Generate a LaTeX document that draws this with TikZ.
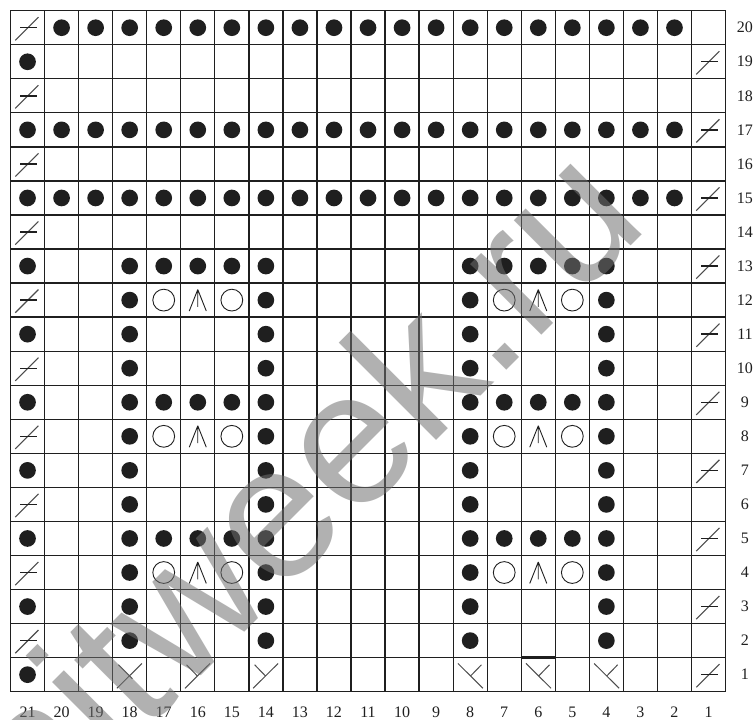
\documentclass[tikz,border=0pt]{standalone}
\usepackage{fontspec}
\setmainfont{Liberation Serif}
\newfontfamily\wmfont{Liberation Sans}
\definecolor{wmgray}{rgb}{0.44,0.44,0.44}
\definecolor{ink}{rgb}{0.12,0.12,0.12}
\tikzset{
  gridline/.style={line width=1.3pt, draw=ink},
  purl/.pic={\fill[ink] (0,0) circle (0.245);},
  yo/.pic={\draw[line width=0.9pt, ink] (0,0) circle (0.32);},
  cdd/.pic={\draw[line width=0.9pt, ink] (0,0.31)--(-0.25,-0.32) (0,0.31)--(0,-0.2) (0,0.31)--(0.25,-0.32);},
  slipst/.pic={\draw[line width=1.1pt, black!70] (-0.36,-0.37)--(0.32,0.31);
               \draw[line width=1.4pt, ink] (-0.22,0)--(0.29,0);},
  ktogr/.pic={\draw[line width=1pt, black!70] (-0.375,-0.4)--(0.36,0.33) (-0.33,0.29)--(-0.01,-0.04);},
  ktogx/.pic={\draw[line width=1pt, black!70] (-0.375,-0.4)--(0.36,0.33) (-0.33,0.29)--(0.08,-0.12);},
  ktogl/.pic={\draw[line width=1pt, black!70] (0.375,-0.4)--(-0.36,0.33) (0.33,0.29)--(0.01,-0.04);},
  numlab/.style={font=\fontsize{16}{16}\selectfont, text=ink, inner sep=0pt},
  wm/.style={font=\fontsize{190}{190}\wmfont, text=wmgray, text opacity=0.54, inner sep=0pt}
}
\begin{document}
\begin{tikzpicture}[x=1pt,y=1pt]
\useasboundingbox (0,0) rectangle (755,720);
\fill[white] (0,0) rectangle (755,720);
\begin{scope}[shift={(10.5,28.3)}, x=34.05pt, y=34.05pt]
  \draw[gridline] (0,0) grid[step=1] (21,20);
  \draw[gridline] (0,0) rectangle (21,20);
  % bold edge above col 6 row 1
  \draw[line width=3pt, ink] (15,1) -- (16,1);
  % full purl rows
  \foreach \c in {2,...,20} \pic at ({21.5-\c},19.5) {purl};
  \foreach \r in {17,15} {\foreach \c in {2,...,21} \pic at ({21.5-\c},{\r-0.5}) {purl};}
  % left edge purls
  \foreach \r in {19,13,11,9,7,5,3,1} \pic at (0.5,{\r-0.5}) {purl};
  % left edge slip
  \foreach \r in {20,18,16,14,12,10,8,6,4,2} \pic at (0.5,{\r-0.5}) {slipst};
  % right edge slip
  \foreach \r in {19,17,15,13,11,9,7,5,3,1} \pic at (20.5,{\r-0.5}) {slipst};
  % motif purl rows
  \foreach \r in {13,9,5} {\foreach \c in {18,17,16,15,14,8,7,6,5,4} \pic at ({21.5-\c},{\r-0.5}) {purl};}
  % motif side columns
  \foreach \r in {12,11,10,8,7,6,4,3,2} {\foreach \c in {18,14,8,4} \pic at ({21.5-\c},{\r-0.5}) {purl};}
  % yarn overs and double decreases
  \foreach \r in {12,8,4} {
    \foreach \c in {17,15,7,5} \pic at ({21.5-\c},{\r-0.5}) {yo};
    \foreach \c in {16,6} \pic at ({21.5-\c},{\r-0.5}) {cdd};
  }
  % row 1
  \pic at ({21.5-18},0.5) {ktogx};
  \pic at ({21.5-16},0.5) {ktogr};
  \pic at ({21.5-14},0.5) {ktogr};
  \foreach \c in {8,6,4} \pic at ({21.5-\c},0.5) {ktogl};
  % row numbers
  \foreach \r in {1,...,20} \node[numlab] (row\r) at (21.57,{\r-0.5}) {\r};
  % column numbers
  \foreach \c in {1,...,21} \node[numlab] (col\c) at ({21.5-\c},-0.6) {\c};
\end{scope}
\node[wm, rotate=45] (watermark) at (264,203) {knitweek.ru};
\end{tikzpicture}
\end{document}
